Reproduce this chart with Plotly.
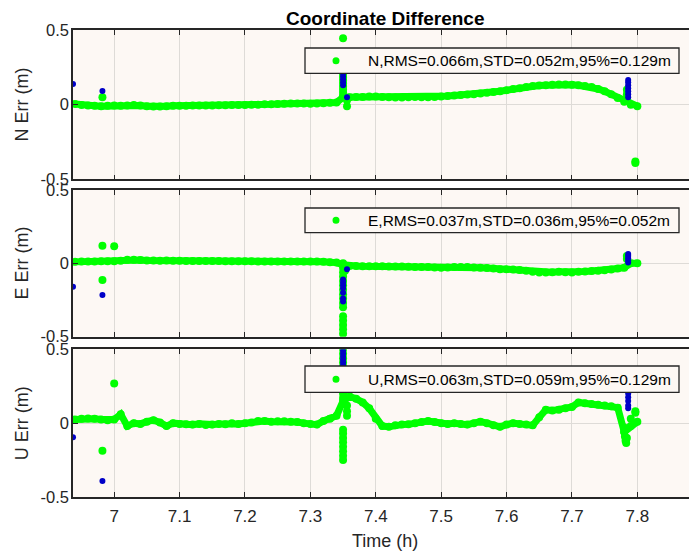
import plotly.graph_objects as go

# Epochs of the continuous solution track (hours)
track_time = [
    6.94, 6.95, 6.96, 6.97, 6.98, 6.99, 7.00, 7.01, 7.02, 7.03, 7.04, 7.05, 7.06, 7.07, 7.08,
    7.09, 7.10, 7.11, 7.12, 7.13, 7.14, 7.15, 7.16, 7.17, 7.18, 7.19, 7.20, 7.21, 7.22, 7.23,
    7.24, 7.25, 7.26, 7.27, 7.28, 7.29, 7.30, 7.31, 7.32, 7.33, 7.34, 7.35, 7.36, 7.37, 7.38,
    7.39, 7.40, 7.41, 7.42, 7.43, 7.44, 7.45, 7.46, 7.47, 7.48, 7.49, 7.50, 7.51, 7.52, 7.53,
    7.54, 7.55, 7.56, 7.57, 7.58, 7.59, 7.60, 7.61, 7.62, 7.63, 7.64, 7.65, 7.66, 7.67, 7.68,
    7.69, 7.70, 7.71, 7.72, 7.73, 7.74, 7.75, 7.76, 7.77, 7.78, 7.79, 7.80,
]

# North error along the track (m)
n_track = [
    0.005, -0.002, -0.005, -0.008, -0.010, -0.008, -0.005, -0.008, -0.005, -0.003, -0.005, -0.010, -0.013, -0.012, -0.010,
    -0.008, -0.008, -0.007, -0.006, -0.006, -0.005, -0.005, -0.004, -0.004, -0.003, -0.002, -0.002, 0.000, 0.000, 0.002,
    0.003, 0.005, 0.006, 0.008, 0.008, 0.008, 0.006, 0.008, 0.010, 0.012, 0.015, 0.050, 0.050, 0.052, 0.052,
    0.055, 0.055, 0.052, 0.050, 0.048, 0.048, 0.050, 0.052, 0.050, 0.050, 0.052, 0.055, 0.058, 0.062, 0.065,
    0.068, 0.070, 0.075, 0.080, 0.085, 0.090, 0.097, 0.105, 0.110, 0.118, 0.125, 0.128, 0.130, 0.133, 0.135,
    0.135, 0.133, 0.130, 0.125, 0.118, 0.105, 0.090, 0.070, 0.045, 0.020, 0.000, -0.010,
]

# East error along the track (m)
e_track = [
    0.010, 0.012, 0.012, 0.013, 0.015, 0.015, 0.015, 0.018, 0.025, 0.025, 0.022, 0.020, 0.020, 0.018, 0.020,
    0.018, 0.018, 0.016, 0.016, 0.016, 0.016, 0.016, 0.016, 0.015, 0.015, 0.015, 0.014, 0.014, 0.013, 0.013,
    0.013, 0.013, 0.013, 0.013, 0.013, 0.012, 0.012, 0.012, 0.010, 0.008, 0.005, -0.010, -0.018, -0.018, -0.020,
    -0.020, -0.020, -0.020, -0.022, -0.022, -0.022, -0.024, -0.025, -0.025, -0.025, -0.028, -0.030, -0.028, -0.025, -0.025,
    -0.025, -0.028, -0.030, -0.032, -0.035, -0.040, -0.040, -0.042, -0.045, -0.050, -0.058, -0.062, -0.062, -0.060, -0.058,
    -0.060, -0.062, -0.058, -0.055, -0.052, -0.050, -0.048, -0.042, -0.035, -0.030, 0.000, 0.000,
]

# Up error along the track (m)
u_track = [
    0.025, 0.030, 0.032, 0.030, 0.025, 0.020, 0.025, 0.060, -0.020, 0.000, -0.005, 0.010, 0.020, 0.005, -0.020,
    0.000, -0.005, -0.008, -0.010, -0.005, -0.012, -0.010, -0.005, -0.008, 0.000, -0.005, 0.000, 0.005, 0.015, 0.015,
    0.010, 0.012, 0.012, 0.010, 0.008, 0.000, -0.005, -0.010, 0.015, 0.030, 0.050, 0.150, 0.180, 0.165, 0.140,
    0.100, 0.030, -0.020, -0.025, -0.015, -0.010, -0.008, 0.000, 0.008, 0.015, 0.008, 0.000, -0.005, 0.000, -0.005,
    -0.010, 0.000, 0.010, 0.000, -0.015, -0.025, -0.010, 0.000, -0.005, -0.010, -0.015, 0.040, 0.090, 0.085, 0.090,
    0.100, 0.110, 0.140, 0.135, 0.130, 0.125, 0.120, 0.115, 0.105, -0.060, -0.020, 0.010,
]

# Isolated epochs (green): outliers and re-convergence spikes
n_extra_time = [6.982, 7.350, 7.350, 7.350, 7.350, 7.350, 7.350, 7.350, 7.350, 7.350, 7.350, 7.350, 7.350, 7.350,
                7.356, 7.356, 7.784, 7.784, 7.784, 7.797, 7.797]
n_extra_val = [0.049, 0.444, 0.280, 0.260, 0.240, 0.220, 0.200, 0.180, 0.160, 0.140, 0.120, 0.100, 0.080, 0.060,
               -0.010, 0.030, 0.040, 0.070, 0.100, -0.380, -0.390]

e_extra_time = [6.982, 6.982, 7.000, 7.350, 7.350, 7.350, 7.350, 7.350, 7.350, 7.350, 7.350, 7.350, 7.350, 7.350,
                7.350, 7.350, 7.350, 7.350, 7.350, 7.353, 7.353, 7.784, 7.784]
e_extra_val = [0.120, -0.114, 0.116, 0.000, -0.030, -0.060, -0.090, -0.120, -0.150, -0.180, -0.210, -0.240, -0.270,
               -0.300, -0.360, -0.390, -0.420, -0.450, -0.480, -0.020, -0.050, 0.050, 0.030]

u_extra_time = [6.982, 7.000, 7.350, 7.350, 7.350, 7.350, 7.350, 7.350, 7.350, 7.350, 7.350, 7.350, 7.350, 7.350,
                7.350, 7.350, 7.350, 7.350, 7.350, 7.350, 7.350, 7.350, 7.356, 7.356, 7.356,
                7.780, 7.780, 7.781, 7.782, 7.783, 7.784, 7.790, 7.797, 7.797]
u_extra_val = [-0.187, 0.268, 0.500, 0.470, 0.440, 0.410, 0.380, 0.350, 0.320, 0.290, 0.260, 0.230, 0.200, 0.170,
               -0.045, -0.070, -0.100, -0.130, -0.160, -0.190, -0.220, -0.250, 0.050, 0.080, 0.120,
               -0.030, -0.060, -0.090, -0.120, -0.135, -0.100, 0.030, 0.070, 0.080]

# Epochs with a different solution status (blue)
n_flag_time = [6.937, 6.982, 7.350, 7.350, 7.350, 7.350, 7.350, 7.350, 7.350, 7.350, 7.350, 7.356,
               7.786, 7.786, 7.786, 7.786, 7.786, 7.786, 7.786]
n_flag_val = [0.138, 0.091, 0.290, 0.270, 0.250, 0.230, 0.210, 0.190, 0.170, 0.150, 0.130, 0.049,
              0.165, 0.150, 0.130, 0.110, 0.090, 0.070, 0.050]

e_flag_time = [6.937, 6.982, 7.350, 7.350, 7.350, 7.350, 7.350, 7.350, 7.350, 7.356,
               7.786, 7.786, 7.786, 7.786, 7.786]
e_flag_val = [-0.159, -0.216, -0.110, -0.130, -0.150, -0.170, -0.200, -0.240, -0.260, -0.040,
              0.064, 0.050, 0.035, 0.020, 0.005]

u_flag_time = [6.937, 6.982, 7.350, 7.350, 7.350, 7.350, 7.350, 7.350, 7.350,
               7.786, 7.786, 7.786, 7.786, 7.786, 7.786, 7.786]
u_flag_val = [-0.095, -0.392, 0.490, 0.470, 0.450, 0.430, 0.410, 0.390, 0.370,
              0.260, 0.225, 0.200, 0.175, 0.150, 0.120, 0.100]

components = ["N", "E", "U"]
stats_labels = [
    "N,RMS=0.066m,STD=0.052m,95%=0.129m",
    "E,RMS=0.037m,STD=0.036m,95%=0.052m",
    "U,RMS=0.063m,STD=0.059m,95%=0.129m",
]
x_ticks = [7.0, 7.1, 7.2, 7.3, 7.4, 7.5, 7.6, 7.7, 7.8]
x_tick_text = ["7", "7.1", "7.2", "7.3", "7.4", "7.5", "7.6", "7.7", "7.8"]
y_ticks = [-0.5, 0.0, 0.5]
y_tick_text = ["-0.5", "0", "0.5"]

GREEN = "#00FF00"
BLUE = "rgb(0,0,200)"
AX = "#262626"
BG = "rgb(253,248,244)"
GRID = "rgb(222,219,215)"
FONT = "Liberation Sans, Arial, sans-serif"

W, H = 689, 554
ML, MT, MB = 73, 30, 57
PW, PH = W - ML, H - MT - MB


def px_x(x):
    return (x - ML) / PW


def px_y(y):
    return (H - MB - y) / PH


tracks = [n_track, e_track, u_track]
extras = [(n_extra_time, n_extra_val), (e_extra_time, e_extra_val), (u_extra_time, u_extra_val)]
flags = [(n_flag_time, n_flag_val), (e_flag_time, e_flag_val), (u_flag_time, u_flag_val)]

fig = go.Figure()
for i in range(3):
    xa = "x" if i == 0 else f"x{i + 1}"
    ya = "y" if i == 0 else f"y{i + 1}"
    # dense epochs merge into a continuous thick band
    fig.add_trace(go.Scatter(
        x=track_time, y=tracks[i], mode="lines+markers", xaxis=xa, yaxis=ya,
        line=dict(color=GREEN, width=7),
        marker=dict(color=GREEN, size=8, line=dict(width=0)),
        name=components[i], hoverinfo="skip"))
    fig.add_trace(go.Scatter(
        x=extras[i][0], y=extras[i][1], mode="markers", xaxis=xa, yaxis=ya,
        marker=dict(color=GREEN, size=8, line=dict(width=0)),
        name=stats_labels[i]))
    fig.add_trace(go.Scatter(
        x=flags[i][0], y=flags[i][1], mode="markers", xaxis=xa, yaxis=ya,
        marker=dict(color=BLUE, size=6, line=dict(width=0)),
        name=components[i] + " flagged"))

# Panel layout (paper fractions, top to bottom)
domains = [[0.6803, 1.0], [0.3433, 0.6574], [0.0, 0.3163]]

layout = dict(
    width=W, height=H,
    margin=dict(l=ML, r=0, t=MT, b=MB, pad=0),
    paper_bgcolor="white",
    plot_bgcolor=BG,
    font=dict(family=FONT, color=AX, size=16),
    showlegend=False,
)

for i in range(3):
    sfx = "" if i == 0 else str(i + 1)
    layout["xaxis" + sfx] = dict(
        domain=[0, 1], range=[6.937, 7.879], anchor="y" + sfx,
        tickvals=x_ticks, ticktext=x_tick_text, ticks="inside", ticklen=5,
        tickwidth=1, tickcolor=AX, showline=True, linecolor=AX, linewidth=1.5,
        mirror="ticks", showgrid=True, gridcolor=GRID, gridwidth=1, zeroline=False,
        showticklabels=(i == 2), tickfont=dict(size=17, color=AX, family=FONT),
        ticklabelstandoff=3,
    )
    layout["yaxis" + sfx] = dict(
        domain=domains[i], range=[-0.5, 0.5], anchor="x" + sfx,
        tickvals=y_ticks, ticktext=y_tick_text, ticks="inside", ticklen=5,
        tickwidth=1, tickcolor=AX, showline=True, linecolor=AX, linewidth=1.5,
        mirror=False, showgrid=True, gridcolor=GRID, gridwidth=1, zeroline=False,
        tickfont=dict(size=16.5, color=AX, family=FONT), ticklabelstandoff=-1,
    )

fig.update_layout(**layout)

# Per-panel legend boxes: (top, bottom) in pixels
legend_boxes = [(48, 73.3), (208, 232.7), (366, 392.3)]
LEG_L, LEG_R, LEG_DOT, LEG_TEXT = 305, 679, 336, 366
for i, (top, bot) in enumerate(legend_boxes):
    fig.add_shape(type="rect", xref="paper", yref="paper",
                  x0=px_x(LEG_L), x1=px_x(LEG_R), y0=px_y(bot), y1=px_y(top),
                  fillcolor=BG, line=dict(color=AX, width=1.3), layer="above")
    cy = (top + bot) / 2
    fig.add_shape(type="circle", xref="paper", yref="paper",
                  x0=px_x(LEG_DOT - 3.5), x1=px_x(LEG_DOT + 3.5),
                  y0=px_y(cy + 3.5), y1=px_y(cy - 3.5),
                  fillcolor=GREEN, line=dict(width=0), layer="above")
    fig.add_annotation(text=stats_labels[i], x=px_x(LEG_TEXT), y=px_y(cy),
                       xref="paper", yref="paper", xanchor="left", yanchor="middle",
                       showarrow=False, font=dict(family=FONT, size=15.5, color="black"))

annotations = [
    dict(text="<b>Coordinate Difference</b>", x=385, y=18, font=dict(size=19, color="black")),
    dict(text="Time (h)", x=385, y=541, font=dict(size=18, color=AX)),
]
panel_centers = [104.6, 263.4, 423.3]
for i, comp in enumerate(components):
    annotations.append(dict(text=f"{comp} Err (m)", x=22, y=panel_centers[i], textangle=-90,
                            font=dict(size=18, color=AX)))

for a in annotations:
    fig.add_annotation(
        text=a["text"], x=px_x(a["x"]), y=px_y(a["y"]),
        xref="paper", yref="paper", xanchor="center", yanchor="middle",
        showarrow=False, textangle=a.get("textangle", 0), font=dict(family=FONT, **a["font"]))

fig.write_html("out.html")
